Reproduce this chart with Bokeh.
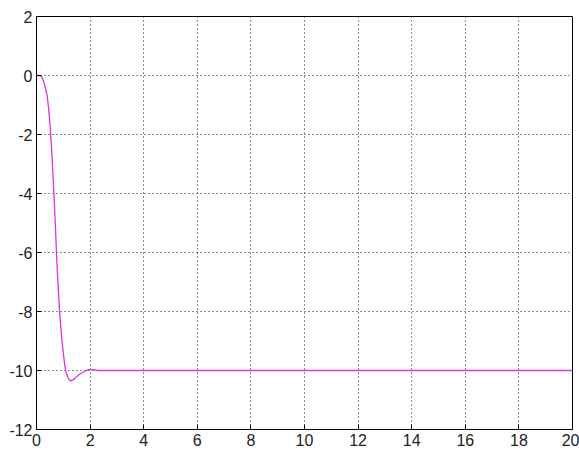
from bokeh.plotting import figure
from bokeh.models import FixedTicker, Range1d
from bokeh.embed import file_html
from bokeh.resources import INLINE

# step response data
t = [0, 0.1, 0.2, 0.3, 0.4, 0.45, 0.5, 0.55, 0.6, 0.65, 0.7, 0.75, 0.8, 0.86, 0.95,
     1.05, 1.1, 1.2, 1.27, 1.35, 1.45, 1.55, 1.65, 1.75, 1.85, 1.95, 2.1, 2.3, 3.0, 20.0]
y = [0, 0, -0.05, -0.3, -0.7, -1.1, -1.6, -2.3, -3.1, -4.0, -5.0, -6.1, -7.0, -8.0, -9.0,
     -9.8, -10.05, -10.3, -10.35, -10.32, -10.25, -10.17, -10.1, -10.05, -10.0, -9.97,
     -9.97, -10.0, -10.0, -10.0]
x_ticks = [0, 2, 4, 6, 8, 10, 12, 14, 16, 18, 20]
y_ticks = [-12, -10, -8, -6, -4, -2, 0, 2]
y_tick_labels = ["-12", "-10", "-8", "-6", "-4", "-2", "0", "2"]

p = figure(width=579, height=451, output_backend="svg", toolbar_location=None,
           x_range=Range1d(0, 20), y_range=Range1d(-12, 2),
           min_border_left=36, min_border_top=16, min_border_right=7, min_border_bottom=22)
p.background_fill_color = "white"
p.border_fill_color = "white"
p.outline_line_color = "black"
p.outline_line_width = 1

p.line(t, y, line_color="#dd33dd", line_width=1.3)

for ax, ticks in ((p.xaxis, x_ticks), (p.yaxis, y_ticks)):
    ax.ticker = FixedTicker(ticks=ticks)
    ax.major_tick_in = 5
    ax.major_tick_out = 0
    ax.minor_tick_in = 0
    ax.minor_tick_out = 0
    ax.axis_line_color = "black"
    ax.major_tick_line_color = "black"
    ax.major_label_text_font = "Liberation Sans"
    ax.major_label_text_font_size = "16px"
    ax.major_label_text_color = "#222222"
    ax.major_label_standoff = 4

p.yaxis.major_label_overrides = dict(zip(y_ticks, y_tick_labels))

p.grid.grid_line_color = "black"
p.grid.grid_line_dash = "1 3"
p.grid.grid_line_width = 1
p.grid.grid_line_alpha = 0.9

open("out.html", "w").write(file_html(p, INLINE))
